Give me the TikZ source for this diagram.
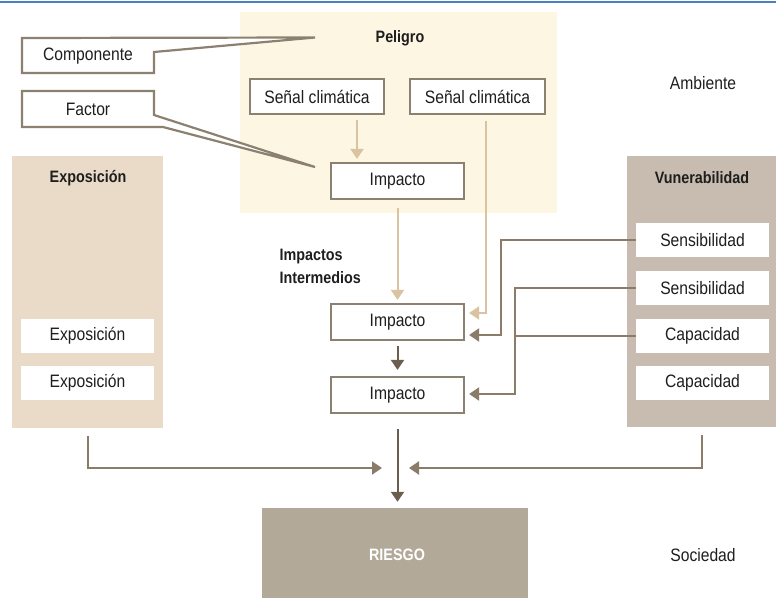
\documentclass[tikz,border=0pt]{standalone}
\usepackage{fontspec}
\setmainfont{Liberation Sans}[FakeStretch=0.87]
\usetikzlibrary{arrows.meta}
\definecolor{bord}{HTML}{8C8070}
\definecolor{pelc}{HTML}{FDF6E3}
\definecolor{expc}{HTML}{E9DBC7}
\definecolor{vulc}{HTML}{C7BCAF}
\definecolor{riec}{HTML}{B3A999}
\definecolor{lightc}{HTML}{D9C3A0}
\definecolor{darkc}{HTML}{6B5E4E}
\definecolor{medc}{HTML}{8A7C68}
\definecolor{bluec}{HTML}{4A7FC1}
\definecolor{txt}{HTML}{1E1E1E}
\begin{document}
\begin{tikzpicture}[x=1pt,y=-1pt,
  font=\fontsize{18}{21}\selectfont, text=txt,
  wbox/.style={draw=bord, line width=2.2pt, fill=white, minimum width=133pt, minimum height=35pt, inner sep=0pt},
  pbox/.style={fill=white, minimum width=133pt, minimum height=34pt, inner sep=0pt},
  panel/.style={inner sep=0pt},
  ttl/.style={font=\fontsize{16.5}{19}\selectfont\bfseries},
  larrow/.style={draw=lightc, line width=2pt, -{Triangle[width=13pt,length=10pt]}},
  darrow/.style={draw=darkc, line width=2pt, -{Triangle[width=13pt,length=10pt]}},
  marrow/.style={draw=medc, line width=2pt, -{Triangle[width=13pt,length=10pt]}},
  callout/.style={draw=bord, line width=2.2pt, fill=white, line join=miter}
]
\useasboundingbox (0,0) rectangle (776,597);
\draw[bluec, line width=1.5pt] (0,2) -- (776,2);

% panels
\node[panel, fill=pelc, minimum width=317pt, minimum height=201pt] (pel) at (398.5,112.5) {};
\node[panel, fill=expc, minimum width=151pt, minimum height=272pt] (exp) at (87.5,292) {};
\node[panel, fill=vulc, minimum width=149pt, minimum height=271pt] (vul) at (701.5,291.5) {};
\node[panel, fill=riec, minimum width=266pt, minimum height=95pt] (rie) at (395,555.5) {};

% titles
\node[ttl] (tpel) at (400,38) {Peligro};
\node[ttl] (texp) at (88,178) {Exposición};
\node[ttl] (tvul) at (702,178) {Vunerabilidad};
\node[ttl, anchor=west, align=left, font=\fontsize{16.5}{23}\selectfont\bfseries] (tint) at (276,266.5) {Impactos\\Intermedios};
\node[ttl, text=white] (trie) at (397,555) {RIESGO};
\node (amb) at (703,83) {Ambiente};
\node (soc) at (703,555) {Sociedad};

% callouts
\draw[callout] (22,38) -- (315,37.5) -- (154,52) -- (154,73) -- (22,73) -- cycle;
\node (comp) at (88,56) {Componente};
\draw[callout] (22,91) -- (154,91) -- (154,115) -- (315,167) -- (163,127) -- (22,127) -- cycle;
\node (fac) at (88,109) {Factor};

% hazard boxes
\node[wbox, minimum width=134pt] (s1) at (317,96.5) {Señal climática};
\node[wbox, minimum width=135pt] (s2) at (477.5,96.5) {Señal climática};
\node[wbox, minimum height=36pt] (imp1) at (397.5,181) {Impacto};
\node[wbox, minimum height=36pt] (imp2) at (397.5,322) {Impacto};
\node[wbox, minimum height=36pt] (imp3) at (397.5,395) {Impacto};

% vulnerability boxes
\node[pbox] (v1) at (702.5,240) {Sensibilidad};
\node[pbox] (v2) at (702.5,288) {Sensibilidad};
\node[pbox] (c1) at (702.5,335.5) {Capacidad};
\node[pbox] (c2) at (702.5,383) {Capacidad};

% exposure boxes
\node[pbox] (e1) at (87.5,335.5) {Exposición};
\node[pbox] (e2) at (87.5,383) {Exposición};

% arrows
\draw[larrow, shorten <=5pt, shorten >=3pt] ([xshift=40pt]s1.south) -- (imp1.north -| 357,0);
\draw[larrow, shorten <=8pt, shorten >=3pt] (imp1.south) -- (imp2.north);
\draw[larrow] ([xshift=8.5pt,yshift=-6pt]s2.south) |- ([xshift=4pt,yshift=9pt]imp2.east);
\draw[darrow, shorten <=5pt, shorten >=6pt] (imp2.south) -- (imp3.north);

\draw[marrow] (v1.west) -- ([xshift=-135pt]v1.west) |- ([xshift=4pt,yshift=-13pt]imp2.east);
\draw[marrow] (v2.west) -- ([xshift=-121pt]v2.west) |- ([xshift=4pt,yshift=1pt]imp3.east);
\draw[draw=medc, line width=2pt] (c1.west) -- ([xshift=-121pt]c1.west);

\coordinate (m) at (397,468);
\draw[marrow] ([xshift=0.5pt,yshift=-8pt]exp.south) |- ([xshift=-15pt]m);
\draw[marrow] ([xshift=0.5pt,yshift=-8pt]vul.south) |- ([xshift=12pt]m);
\draw[darrow, shorten <=15pt, shorten >=6pt] (imp3.south) -- (rie.north -| imp3.south);
\end{tikzpicture}
\end{document}
